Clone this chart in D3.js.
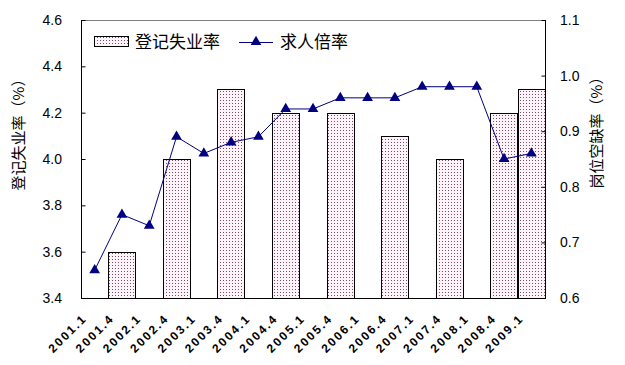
<!DOCTYPE html>
<html><head><meta charset="utf-8">
<script src="https://cdn.jsdelivr.net/npm/d3@7"></script>
<style>body{margin:0;background:#fff}svg{display:block}</style>
</head><body>
<svg id="c" width="625" height="365"></svg>
<script>
const categories = ["2001.1","2001.4","2002.1","2002.4","2003.1","2003.4","2004.1","2004.4","2005.1","2005.4","2006.1","2006.4","2007.1","2007.4","2008.1","2008.4","2009.1"];
const unemploymentRate = [null,3.6,null,4.0,null,4.3,null,4.2,null,4.2,null,4.1,null,4.0,null,4.2,4.3];
const jobRatio = [0.65,0.75,0.73,0.89,0.86,0.88,0.89,0.94,0.94,0.96,0.96,0.96,0.98,0.98,0.98,0.85,0.86];
const leftTicks = [3.4,3.6,3.8,4.0,4.2,4.4,4.6];
const rightTicks = [0.6,0.7,0.8,0.9,1.0,1.1];
const seriesNames = ["登记失业率","求人倍率"];
const leftTitle = "登记失业率（%）";
const rightTitle = "岗位空缺率（%）";

const L=81,R=545,T=20,B=298;
const svg=d3.select("#c");
const defs=svg.append("defs");
const pat=defs.append("pattern").attr("id","dots").attr("patternUnits","userSpaceOnUse").attr("width",3).attr("height",3);
pat.append("rect").attr("width",3).attr("height",3).attr("fill","#fdf4f9");
pat.append("rect").attr("x",1).attr("y",1).attr("width",1).attr("height",1).attr("fill","#7a4a6c");

const x=d3.scaleBand().domain(categories).range([L,R]).padding(0);
const yL=d3.scaleLinear().domain([3.4,4.6]).range([B,T]);
const yR=d3.scaleLinear().domain([0.6,1.1]).range([B,T]);

// top border
svg.append("line").attr("x1",L).attr("x2",R).attr("y1",T+0.5).attr("y2",T+0.5).attr("stroke","#808080");

// bars
svg.append("g").selectAll("rect").data(categories.map((c,i)=>({c,v:unemploymentRate[i]})).filter(d=>d.v!=null))
 .join("rect")
 .attr("x",d=>Math.round(x(d.c))+0.5).attr("width",Math.round(x.bandwidth()))
 .attr("y",d=>Math.round(yL(d.v))+0.5).attr("height",d=>B-Math.round(yL(d.v)))
 .attr("fill","url(#dots)").attr("stroke","#000").attr("stroke-width",1);

// axes
const fontAx="'Liberation Sans',Arial,sans-serif";
const gL=svg.append("g").attr("transform",`translate(${L+0.5},0)`)
 .call(d3.axisRight(yL).tickValues(leftTicks).tickSize(4).tickFormat(d3.format(".1f")));
gL.selectAll("text").remove();
gL.select(".domain").attr("d",`M0,${T}V${B}`);
svg.append("g").selectAll("text").data(leftTicks).join("text")
 .attr("x",L-19).attr("y",d=>yL(d)+5).attr("text-anchor","end")
 .attr("font-family",fontAx).attr("font-size",14).attr("fill","#000")
 .text(d3.format(".1f"));

const gR=svg.append("g").attr("transform",`translate(${R+0.5},0)`)
 .call(d3.axisLeft(yR).tickValues(rightTicks).tickSize(4).tickFormat(d3.format(".1f")));
gR.selectAll("text").remove();
gR.select(".domain").attr("d",`M0,${T}V${B}`);
svg.append("g").selectAll("text").data(rightTicks).join("text")
 .attr("x",R+15).attr("y",d=>yR(d)+5).attr("text-anchor","start")
 .attr("font-family",fontAx).attr("font-size",14).attr("fill","#000")
 .text(d3.format(".1f"));

// x axis
svg.append("line").attr("x1",L).attr("x2",R+1).attr("y1",B+0.5).attr("y2",B+0.5).attr("stroke","#000");
svg.append("g").selectAll("text").data(categories).join("text")
 .attr("transform",d=>`translate(${x(d)+x.bandwidth()/2-7},${B+21}) rotate(-45)`)
 .attr("text-anchor","end").attr("font-family",fontAx).attr("font-size",12).attr("font-weight","bold")
 .attr("letter-spacing",2).attr("fill","#000").text(d=>d);

// line
const line=d3.line().x((d,i)=>x(categories[i])+x.bandwidth()/2).y(d=>yR(d));
svg.append("path").attr("d",line(jobRatio)).attr("fill","none").attr("stroke","#000080").attr("stroke-width",1);
const tri=d3.symbol().type(d3.symbolTriangle).size(50);
svg.append("g").selectAll("path").data(jobRatio).join("path")
 .attr("transform",(d,i)=>`translate(${x(categories[i])+x.bandwidth()/2},${yR(d)})`)
 .attr("d",tri).attr("fill","#000080");

// titles
const fontCJK="'Noto Sans CJK SC',sans-serif";
svg.append("text").attr("transform","translate(24,131) rotate(-90)").attr("text-anchor","middle")
 .attr("font-family",fontCJK).attr("font-size",15).attr("fill","#000").text(leftTitle);
svg.append("text").attr("transform","translate(602,129) rotate(-90)").attr("text-anchor","middle")
 .attr("font-family",fontCJK).attr("font-size",15).attr("fill","#000").text(rightTitle);

// legend
svg.append("rect").attr("x",94.5).attr("y",36.5).attr("width",34).attr("height",10).attr("fill","url(#dots)").attr("stroke","#000");
svg.append("text").attr("x",135).attr("y",48).attr("font-family",fontCJK).attr("font-size",17).attr("fill","#000").text(seriesNames[0]);
svg.append("line").attr("x1",239).attr("x2",273).attr("y1",42.5).attr("y2",42.5).attr("stroke","#000080");
svg.append("path").attr("transform","translate(256,42)").attr("d",tri).attr("fill","#000080");
svg.append("text").attr("x",280).attr("y",48).attr("font-family",fontCJK).attr("font-size",17).attr("fill","#000").text(seriesNames[1]);
</script>
</body></html>
